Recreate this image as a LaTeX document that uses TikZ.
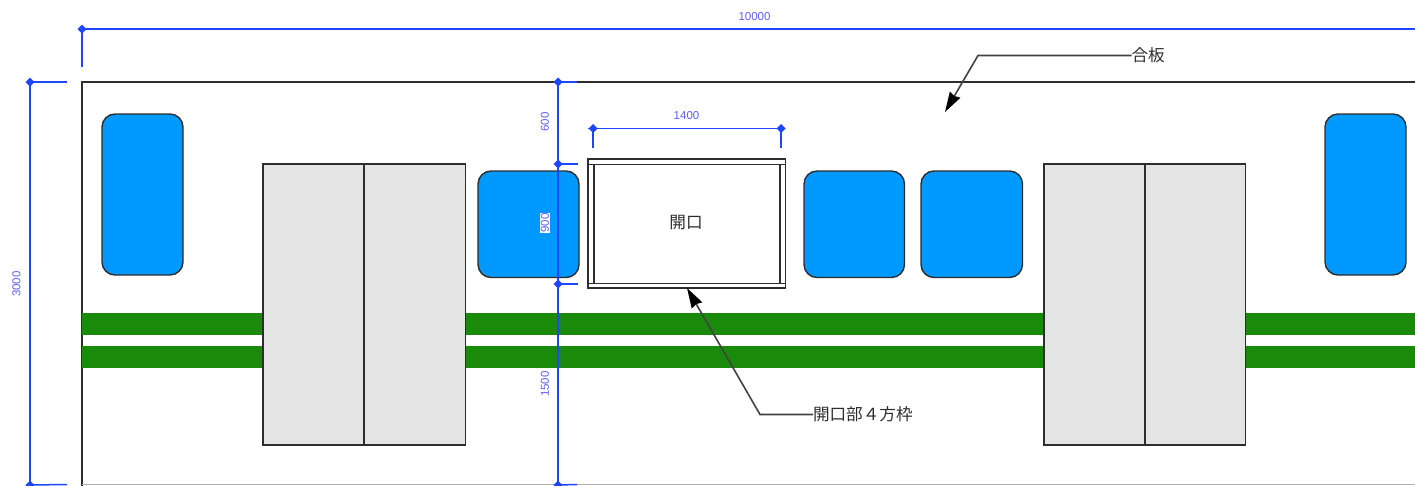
\documentclass[tikz,border=0pt]{standalone}
\usepackage{fontspec}
\setmainfont{Noto Sans CJK JP}
\newfontfamily\dimfont{Liberation Sans}
\usetikzlibrary{arrows.meta,shapes.geometric}
\definecolor{dimblue}{RGB}{30,70,255}
\definecolor{dimtext}{RGB}{95,95,245}
\definecolor{winblue}{RGB}{0,153,255}
\definecolor{beltgreen}{RGB}{25,138,10}
\definecolor{doorgrey}{RGB}{228,228,228}
\definecolor{ink}{RGB}{45,45,45}
\tikzset{
  every node/.style={inner sep=0pt,outer sep=0pt},
  win/.style={draw=ink,line width=1.4pt,fill=winblue,rounded corners=13pt},
  door/.style={draw=ink,line width=1.4pt,fill=doorgrey},
  belt/.style={fill=beltgreen},
  outline/.style={draw=ink,line width=1.5pt},
  dimline/.style={draw=dimblue,line width=1.5pt},
  dimdot/.style={diamond,fill=dimblue,minimum width=9pt,minimum height=9pt},
  dimlabel/.style={text=dimtext,font=\dimfont\fontsize{11.5}{12}\selectfont},
  leader/.style={draw=ink!90,line width=1.6pt},
  leadarrow/.style={leader,-{Stealth[length=20pt,width=12pt,inset=1.5pt,color=black]}},
  notelabel/.style={text=ink,font=\fontsize{16.6}{17}\selectfont}
}
\begin{document}
\begin{tikzpicture}[x=1pt,y=-1pt]
\useasboundingbox (0,0) rectangle (1415,485);
\clip (0,0) rectangle (1415,485);
\fill[white] (0,0) rectangle (1415,485);
% board
\draw[outline] (1416,82) -- (82,82) -- (82,486);
\draw[draw=black!30,line width=1pt] (82,484.5) -- (1416,484.5);
% belts
\fill[belt] (82,313) rectangle (1416,334.5);
\fill[belt] (82,346) rectangle (1416,367.5);
% windows
\path[win] (102,114) rectangle (183,275);
\path[win] (478,171) rectangle (579,277.5);
\path[win] (804,171) rectangle (904.5,277.5);
\path[win] (921,171) rectangle (1022.5,277.5);
\path[win] (1325,114) rectangle (1406,275);
% doors
\path[door] (263,164) rectangle (465.5,445);
\draw[outline] (364,164) -- (364,445);
\path[door] (1044,164) rectangle (1245.5,445);
\draw[outline] (1145,164) -- (1145,445);
% opening
\path[outline,fill=white] (588,159) rectangle (785.5,288);
\draw[outline] (588,164.5) -- (785.5,164.5);
\draw[outline] (588,283.5) -- (785.5,283.5);
\draw[outline] (594,164.5) -- (594,283.5);
\draw[outline] (780,164.5) -- (780,283.5);
\node[notelabel] (openlabel) at (686,223) {開口};
% overall width dimension
\node[dimdot] (wL) at (82,29) {};
\coordinate (wR) at (1416,29);
\coordinate (wT) at (82,67);
\draw[dimline] (wL.center) -- (wR);
\draw[dimline] (wL.center) -- (wT);
\node[dimlabel] (wlabel) at (754.5,17) {10000};
% overall height dimension
\node[dimdot] (hT) at (30,82) {};
\node[dimdot] (hB) at (30,485) {};
\coordinate (hTt) at (67,82);
\coordinate (hBt) at (67,484.5);
\draw[dimline] (hT.center) -- (hB.center);
\draw[dimline] (hT.center) -- (hTt);
\draw[dimline] (hB.center) -- (hBt);
\node[dimlabel,rotate=90] (hlabel) at (16.5,284) {3000};
% vertical chain
\node[dimdot] (v1) at (558,82) {};
\node[dimdot] (v2) at (558,164) {};
\node[dimdot] (v3) at (558,284) {};
\node[dimdot] (v4) at (558,485) {};
\coordinate (v1t) at (577,82);
\coordinate (v2t) at (578,164);
\coordinate (v3t) at (578,284);
\coordinate (v4t) at (577,484.5);
\draw[dimline] (v1.center) -- (v4.center);
\draw[dimline] (v1.center) -- (v1t);
\draw[dimline] (v2.center) -- (v2t);
\draw[dimline] (v3.center) -- (v3t);
\draw[dimline] (v4.center) -- (v4t);
\node[dimlabel,rotate=90] (d600) at (545,122) {600};
\node[dimlabel,rotate=90,fill=white,inner sep=0.5pt] (d900) at (545,223) {900};
\node[dimlabel,rotate=90] (d1500) at (545,384) {1500};
% opening width
\node[dimdot] (oL) at (593,128.5) {};
\node[dimdot] (oR) at (781,128.5) {};
\coordinate (oLe) at (588,128.5);
\coordinate (oRe) at (785,128.5);
\coordinate (oLt) at (593,148);
\coordinate (oRt) at (781,148);
\draw[dimline] (oLe) -- (oRe);
\draw[dimline] (oL.center) -- (oLt);
\draw[dimline] (oR.center) -- (oRt);
\node[dimlabel] (d1400) at (686.5,116) {1400};
% leaders
\node[notelabel,anchor=west] (plate) at (1131.5,55.5) {合板};
\coordinate (pbend) at (978,55.5);
\coordinate (ptip) at (945,112);
\draw[leadarrow] (plate.west) -- (pbend) -- (ptip);
\node[notelabel,anchor=west] (frame) at (813,414.5) {開口部４方枠};
\coordinate (fbend) at (760,414.5);
\coordinate (ftip) at (687,288);
\draw[leadarrow] (frame.west) -- (fbend) -- (ftip);
\end{tikzpicture}
\end{document}
